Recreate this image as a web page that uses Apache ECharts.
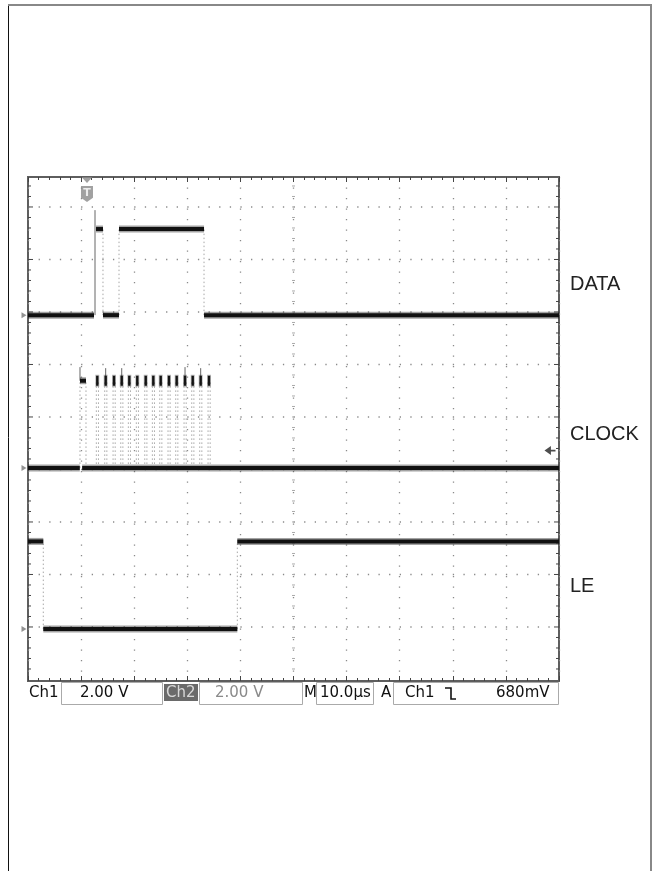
<!DOCTYPE html>
<html><head><meta charset="utf-8">
<script src="https://cdn.jsdelivr.net/npm/echarts@6/dist/echarts.min.js"></script>
<style>html,body{margin:0;padding:0;background:#fff}#c{width:655px;height:871px}</style>
</head><body><div id="c"></div>
<script>
// ---- data (time in µs, 10 µs/div; vertical in screen divisions above lowest graticule line) ----
const timeMin = 0, timeMax = 100, timeDiv = 10;
const divMin = -1.029, divMax = 8.571;
const graticuleLevels = [0, 1, 2, 3, 4, 5, 6, 7, 8];
const channelNames = ['DATA', 'CLOCK', 'LE'];
const channelLow  = [5.94, 3.03, -0.04];
const channelHigh = [7.58, 4.69, 1.63];

// DATA (Ch1) level segments
const dataSegStart = [0, 12.81, 14.12, 17.14, 33.15];
const dataSegEnd   = [12.43, 14.12, 17.14, 33.15, 100];
const dataSegHigh  = [0, 1, 0, 1, 0];
const dataEdges    = [14.12, 17.14, 33.15];
const dataSpikeT   = [12.62];
const dataSpikeTop = [7.94];

// CLOCK (Ch2)
const clockSegStart = [0, 10.2];
const clockSegEnd   = [9.75, 100];
const clockFirstPulse = [9.79, 10.92];
const clockPulses = [13.05, 14.63, 16.20, 17.65, 19.08, 20.58, 22.17, 23.60, 24.99, 26.55, 28.00, 29.57, 31.02, 32.52, 34.09];
const clockSpikeT = [9.79, 14.63, 17.65, 29.57, 32.52];
const clockSpikeTop = [4.95, 4.93, 4.93, 4.95, 4.93];

// LE
const leSegStart = [0, 2.88, 39.42];
const leSegEnd   = [2.88, 39.42, 100];
const leSegHigh  = [1, 0, 1];
const leEdges    = [2.88, 39.42];

// trigger
const triggerTime = 11.11;
const triggerLevelDiv = 3.36;

// status bar
const statusCh1 = 'Ch1', statusCh1Scale = '2.00 V';
const statusCh2 = 'Ch2', statusCh2Scale = '2.00 V';
const statusTime = '10.0µs';
const statusTrigSrc = 'Ch1', statusTrigLevel = '680mV';

// ---- build series data ----
const levelData = [], edgeData = [], spikeData = [], blobData = [];
function addChannel(ci, starts, ends, highs) {
  for (let i = 0; i < starts.length; i++) {
    levelData.push([starts[i], ends[i], highs[i] ? channelHigh[ci] : channelLow[ci]]);
  }
}
addChannel(0, dataSegStart, dataSegEnd, dataSegHigh);
dataEdges.forEach(t => edgeData.push([t, channelLow[0], channelHigh[0]]));
dataSpikeT.forEach((t, i) => spikeData.push([t, channelLow[0], dataSpikeTop[i]]));

addChannel(1, clockSegStart, clockSegEnd, [0, 0]);
levelData.push([clockFirstPulse[0], clockFirstPulse[1], channelHigh[1]]);
edgeData.push([clockFirstPulse[0], channelLow[1], channelHigh[1]]);
edgeData.push([clockFirstPulse[1], channelLow[1], channelHigh[1]]);
clockPulses.forEach(t => {
  edgeData.push([t - 0.18, channelLow[1], channelHigh[1]]);
  edgeData.push([t + 0.22, channelLow[1], channelHigh[1]]);
  blobData.push([t, channelHigh[1]]);
});
clockSpikeT.forEach((t, i) => spikeData.push([t, channelHigh[1], clockSpikeTop[i]]));

addChannel(2, leSegStart, leSegEnd, leSegHigh);
leEdges.forEach(t => edgeData.push([t, channelLow[2], channelHigh[2]]));

const yTicks = [];
for (let k = -5; k <= 43; k++) { const v = k * 0.2; if (v > divMin + 0.05 && v < divMax - 0.05) yTicks.push([v, k % 5 === 0 ? 1 : 0]); }

const chart = echarts.init(document.getElementById('c'), null, {renderer: 'canvas'});

function renderLevel(params, api) {
  const a = api.coord([api.value(0), api.value(2)]);
  const b = api.coord([api.value(1), api.value(2)]);
  return {type: 'group', children: [
    {type: 'line', shape: {x1: a[0], y1: a[1], x2: b[0], y2: b[1]}, style: {stroke: 'rgba(25,25,25,0.4)', lineWidth: 7}},
    {type: 'line', shape: {x1: a[0], y1: a[1], x2: b[0], y2: b[1]}, style: {stroke: '#111', lineWidth: 4}}
  ]};
}
function renderEdge(params, api) {
  const a = api.coord([api.value(0), api.value(1)]);
  const b = api.coord([api.value(0), api.value(2)]);
  return {type: 'line', shape: {x1: a[0], y1: a[1], x2: b[0], y2: b[1]}, style: {stroke: '#a6a6a6', lineWidth: 1, lineDash: [1.5, 2.5]}};
}
function renderSpike(params, api) {
  const a = api.coord([api.value(0), api.value(1)]);
  const b = api.coord([api.value(0), api.value(2)]);
  return {type: 'line', shape: {x1: a[0], y1: a[1], x2: b[0], y2: b[1]}, style: {stroke: '#666', lineWidth: 1}};
}
function renderBlob(params, api) {
  const p = api.coord([api.value(0), api.value(1)]);
  return {type: 'group', children: [
    {type: 'rect', shape: {x: p[0] - 2, y: p[1] - 6, width: 4, height: 12}, style: {fill: 'rgba(30,30,30,0.3)'}},
    {type: 'rect', shape: {x: p[0] - 1.2, y: p[1] - 5, width: 2.4, height: 10}, style: {fill: '#141414'}}
  ]};
}
function renderGratH(params, api) {
  const cs = params.coordSys;
  const p = api.coord([timeMin, api.value(0)]);
  return {type: 'line', shape: {x1: cs.x, y1: p[1], x2: cs.x + cs.width, y2: p[1]}, style: {stroke: '#8a8a8a', lineWidth: 1.3, lineDash: [1.3, 9.32]}};
}
function renderYTick(params, api) {
  const cs = params.coordSys;
  const p = api.coord([timeMin, api.value(0)]);
  const len = api.value(1) ? 5 : 3;
  return {type: 'group', children: [
    {type: 'line', shape: {x1: cs.x, y1: p[1], x2: cs.x + len, y2: p[1]}, style: {stroke: '#444', lineWidth: 1}},
    {type: 'line', shape: {x1: cs.x + cs.width - len, y1: p[1], x2: cs.x + cs.width, y2: p[1]}, style: {stroke: '#444', lineWidth: 1}},
    {type: 'line', shape: {x1: cs.x + cs.width / 2 - 1.5, y1: p[1], x2: cs.x + cs.width / 2 + 1.5, y2: p[1]}, style: {stroke: '#aaa', lineWidth: 1}}
  ]};
}

const statusFont = '15px "DejaVu Sans"';
const graphic = [
  {type: 'line', shape: {x1: 8.5, y1: 4, x2: 8.5, y2: 871}, style: {stroke: '#111', lineWidth: 1}},
  {type: 'line', shape: {x1: 8, y1: 5, x2: 652, y2: 5}, style: {stroke: '#888', lineWidth: 2}},
  {type: 'line', shape: {x1: 651, y1: 4, x2: 651, y2: 871}, style: {stroke: '#888', lineWidth: 2}},
  // status bar
  {type: 'rect', shape: {x: 61.5, y: 682.5, width: 101, height: 22}, style: {fill: 'none', stroke: '#aaa', lineWidth: 1}},
  {type: 'rect', shape: {x: 199.5, y: 682.5, width: 103, height: 22}, style: {fill: 'none', stroke: '#aaa', lineWidth: 1}},
  {type: 'rect', shape: {x: 316.5, y: 682.5, width: 57, height: 22}, style: {fill: 'none', stroke: '#aaa', lineWidth: 1}},
  {type: 'rect', shape: {x: 393.5, y: 682.5, width: 165, height: 22}, style: {fill: 'none', stroke: '#aaa', lineWidth: 1}},
  {type: 'rect', shape: {x: 164, y: 684, width: 34, height: 17}, style: {fill: '#6a6a6a'}},
  {type: 'text', x: 29, y: 693, style: {text: statusCh1, font: statusFont, fill: '#111', textVerticalAlign: 'middle'}},
  {type: 'text', x: 80, y: 693, style: {text: statusCh1Scale, font: statusFont, fill: '#111', textVerticalAlign: 'middle'}},
  {type: 'text', x: 166, y: 693, style: {text: statusCh2, font: statusFont, fill: '#d8d8d8', textVerticalAlign: 'middle'}},
  {type: 'text', x: 215, y: 693, style: {text: statusCh2Scale, font: statusFont, fill: '#8a8a8a', textVerticalAlign: 'middle'}},
  {type: 'text', x: 304, y: 693, style: {text: 'M', font: statusFont, fill: '#111', textVerticalAlign: 'middle'}},
  {type: 'text', x: 320, y: 693, style: {text: statusTime, font: statusFont, fill: '#111', textVerticalAlign: 'middle'}},
  {type: 'text', x: 381, y: 693, style: {text: 'A', font: statusFont, fill: '#111', textVerticalAlign: 'middle'}},
  {type: 'text', x: 405, y: 693, style: {text: statusTrigSrc, font: statusFont, fill: '#111', textVerticalAlign: 'middle'}},
  {type: 'polyline', shape: {points: [[445, 688], [451, 688], [451, 699], [456, 699]]}, style: {stroke: '#111', lineWidth: 1.6, fill: 'none'}},
  {type: 'text', x: 496, y: 693, style: {text: statusTrigLevel, font: statusFont, fill: '#111', textVerticalAlign: 'middle'}},
  // channel names
  {type: 'text', x: 570, y: 284, style: {text: channelNames[0], font: '20px "Liberation Sans", Arial', fill: '#222', textVerticalAlign: 'middle'}},
  {type: 'text', x: 570, y: 434, style: {text: channelNames[1], font: '20px "Liberation Sans", Arial', fill: '#222', textVerticalAlign: 'middle'}},
  {type: 'text', x: 570, y: 586, style: {text: channelNames[2], font: '20px "Liberation Sans", Arial', fill: '#222', textVerticalAlign: 'middle'}}
];

const xCommon = {
  type: 'value', min: timeMin, max: timeMax, interval: timeDiv,
  axisLine: {show: false, onZero: false}, axisLabel: {show: false},
  axisTick: {show: true, inside: true, length: 5, lineStyle: {color: '#444'}},
  minorTick: {show: true, splitNumber: 5, length: 3, lineStyle: {color: '#444'}}
};

chart.setOption({
  animation: false,
  backgroundColor: '#fff',
  grid: {left: 28, top: 177, width: 531, height: 504, show: true, borderColor: '#5e5e5e', borderWidth: 2, backgroundColor: '#fff'},
  xAxis: [
    Object.assign({}, xCommon, {position: 'bottom', splitLine: {show: true, lineStyle: {color: '#8a8a8a', width: 1.3, type: [1.3, 9.2]}}}),
    Object.assign({}, xCommon, {position: 'top', splitLine: {show: false}})
  ],
  yAxis: {type: 'value', min: divMin, max: divMax, axisLine: {show: false, onZero: false}, axisTick: {show: false}, axisLabel: {show: false}, splitLine: {show: false}},
  graphic: graphic,
  series: [
    {type: 'custom', name: 'graticule', renderItem: renderGratH, data: graticuleLevels.map(v => [v]), encode: {y: 0}, silent: true, z: 1},
    {type: 'custom', name: 'yticks', renderItem: renderYTick, data: yTicks, encode: {y: 0}, silent: true, z: 1},
    {type: 'custom', name: 'edges', renderItem: renderEdge, data: edgeData, encode: {x: 0, y: [1, 2]}, silent: true, z: 2},
    {type: 'custom', name: 'spikes', renderItem: renderSpike, data: spikeData, encode: {x: 0, y: [1, 2]}, silent: true, z: 3},
    {type: 'custom', name: 'levels', renderItem: renderLevel, data: levelData, encode: {x: [0, 1], y: 2}, silent: true, z: 4},
    {type: 'custom', name: 'pulses', renderItem: renderBlob, data: blobData, encode: {x: 0, y: 1}, silent: true, z: 4},
    {type: 'scatter', name: 'ground', data: channelLow.map(v => [timeMin, v]), symbol: 'triangle', symbolRotate: -90, symbolSize: [6, 5], symbolOffset: [-4, 0], itemStyle: {color: '#777'}, clip: false, silent: true, z: 5},
    {type: 'scatter', name: 'trigpos', data: [[triggerTime, divMax]], symbol: 'triangle', symbolRotate: 180, symbolSize: [11, 6], symbolOffset: [0, 3], itemStyle: {color: '#8a8a8a'}, clip: false, silent: true, z: 5},
    {type: 'scatter', name: 'trigT', data: [[triggerTime, divMax]], symbol: 'path://M0,0 L10,0 L10,11 L5,15 L0,11 Z', symbolSize: [12, 16], symbolOffset: [0, 17], itemStyle: {color: '#8a8a8a'},
      label: {show: true, formatter: 'T', color: '#fff', fontWeight: 'bold', fontSize: 11, fontFamily: 'DejaVu Sans', position: 'inside', offset: [0, -1]}, clip: false, silent: true, z: 5},
    {type: 'scatter', name: 'triglevel', data: [[timeMax, triggerLevelDiv]], symbol: 'path://M0,5 L7,0 L7,4 L12,4 L12,6 L7,6 L7,10 Z', symbolSize: [11, 9], symbolOffset: [-9, 0], itemStyle: {color: '#222'}, clip: false, silent: true, z: 5}
  ]
});
</script></body></html>
